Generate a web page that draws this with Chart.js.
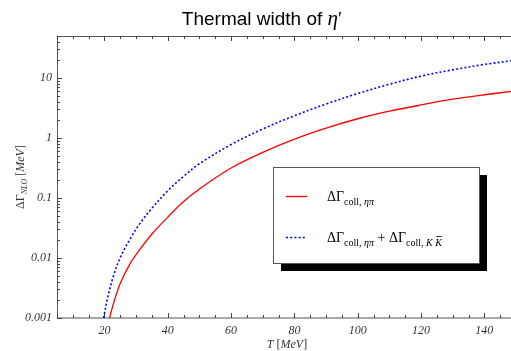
<!DOCTYPE html>
<html>
<head>
<meta charset="utf-8">
<script src="https://cdn.jsdelivr.net/npm/chart.js@4/dist/chart.umd.min.js"></script>
<style>
  html, body { margin: 0; padding: 0; background: #fff; overflow: hidden; }
  #wrap { position: relative; width: 516px; height: 351px; }
</style>
</head>
<body>
<div id="wrap"><canvas id="chart"></canvas></div>
<script>
// values
const redT = [21.6, 23, 25, 28, 31, 35, 40, 45, 50, 60, 70, 80, 90, 100, 110, 120, 130, 140, 150];
const redWidth = [0.001, 0.00186, 0.0038, 0.0079, 0.0135, 0.0251, 0.048, 0.087, 0.141, 0.316, 0.575, 0.955, 1.46, 2.09, 2.79, 3.55, 4.42, 5.25, 6.1];

const blueT = [19.7, 21, 23, 25, 28, 31, 35, 40, 45, 50, 60, 70, 80, 90, 100, 110, 120, 130, 140, 150];
const blueWidth = [0.001, 0.00219, 0.00537, 0.0102, 0.0204, 0.0363, 0.0676, 0.132, 0.229, 0.372, 0.776, 1.413, 2.344, 3.673, 5.495, 7.85, 10.72, 13.65, 16.8, 19.7];

const xTicks = [20, 40, 60, 80, 100, 120, 140];
const yTicks = [0.001, 0.01, 0.1, 1, 10];

const SERIF = '"Liberation Serif", "DejaVu Serif", serif';
const SANS = '"Liberation Sans", Arial, sans-serif';

const pts = (xs, ys) => xs.map((x, i) => ({ x, y: ys[i] }));

// draw a run of text pieces with own fonts / offsets
const rich = (ctx, parts, x, y, align) => {
  let w = 0;
  parts.forEach(p => { ctx.font = p.font; p.w = ctx.measureText(p.t).width; w += p.w; });
  let cx = align === 'center' ? x - w / 2 : x;
  parts.forEach(p => {
    ctx.font = p.font;
    ctx.fillText(p.t, cx, y + (p.dy || 0));
    if (p.over) {
      const ow = ctx.measureText(p.over).width;
      const ox = cx + p.w - ow;
      ctx.beginPath();
      ctx.moveTo(ox + 1, y + (p.dy || 0) - 9.5);
      ctx.lineTo(ox + ow, y + (p.dy || 0) - 9.5);
      ctx.lineWidth = 0.8;
      ctx.strokeStyle = ctx.fillStyle;
      ctx.stroke();
    }
    cx += p.w;
  });
};

const line = (ctx, x1, y1, x2, y2) => {
  ctx.beginPath();
  ctx.moveTo(x1, y1);
  ctx.lineTo(x2, y2);
  ctx.stroke();
};

const frame = {
  id: 'frame',
  beforeDatasetsDraw(chart) {
    const { ctx, chartArea: a, scales: { x, y } } = chart;
    ctx.save();
    ctx.strokeStyle = '#555';
    ctx.lineWidth = 1;
    ctx.strokeRect(a.left + 0.5, a.top + 0.5, a.right - a.left, a.bottom - a.top - 0.5);
    ctx.strokeStyle = '#444';
    for (let t = 5; t <= 150; t += 5) {
      const px = Math.round(x.getPixelForValue(t)) + 0.5;
      const len = t % 20 === 0 ? 5 : 3;
      line(ctx, px, a.bottom, px, a.bottom - len);
      line(ctx, px, a.top, px, a.top + len);
    }
    for (let d = -3; d <= 1; d++) {
      for (let m = 1; m <= 9; m++) {
        const v = m * Math.pow(10, d);
        if (v > 50) break;
        const py = Math.round(y.getPixelForValue(v)) + 0.5;
        const len = m === 1 ? 5 : 3;
        line(ctx, a.left, py, a.left + len, py);
        line(ctx, a.right, py, a.right - len, py);
      }
    }
    ctx.restore();
  },
  afterDraw(chart) {
    const { ctx } = chart;
    ctx.save();
    ctx.fillStyle = '#000';
    ctx.textBaseline = 'alphabetic';

    // title
    rich(ctx, [
      { t: 'Thermal width of ', font: '19px ' + SANS },
      { t: 'η', font: 'italic 21px ' + SERIF },
      { t: '′', font: '19px ' + SERIF }
    ], 262, 25, 'center');

    // axis titles
    ctx.fillStyle = '#333';
    rich(ctx, [
      { t: 'T', font: 'italic 12px ' + SERIF },
      { t: ' [', font: '12px ' + SERIF },
      { t: 'MeV', font: 'italic 12px ' + SERIF },
      { t: ']', font: '12px ' + SERIF }
    ], 287, 348, 'center');

    ctx.save();
    ctx.translate(24, 177);
    ctx.rotate(-Math.PI / 2);
    rich(ctx, [
      { t: 'ΔΓ', font: '12px ' + SERIF },
      { t: 'NLO', font: 'italic 8px ' + SERIF, dy: 3 },
      { t: ' [', font: '12px ' + SERIF },
      { t: 'MeV', font: 'italic 12px ' + SERIF },
      { t: ']', font: '12px ' + SERIF }
    ], 0, 0, 'center');
    ctx.restore();

    // legend box with drop shadow
    const bx = 273, by = 167, bw = 206, bh = 96;
    ctx.fillStyle = '#000';
    ctx.fillRect(bx + 8, by + 8, bw, bh);
    ctx.fillStyle = '#fff';
    ctx.fillRect(bx, by, bw, bh);
    ctx.strokeStyle = '#555';
    ctx.lineWidth = 1;
    ctx.strokeRect(bx + 0.5, by + 0.5, bw, bh);

    const ds = chart.data.datasets;
    const rows = [196, 237];
    rows.forEach((ry, i) => {
      ctx.strokeStyle = ds[i].borderColor;
      ctx.lineWidth = ds[i].borderWidth;
      ctx.setLineDash(ds[i].borderDash || []);
      line(ctx, 286, ry + 0.5, 307, ry + 0.5);
    });
    ctx.setLineDash([]);
    ctx.fillStyle = '#000';
    const big = '14px ' + SERIF, sub = '10px ' + SERIF, subI = 'italic 10px ' + SERIF;
    rich(ctx, [
      { t: 'ΔΓ', font: big },
      { t: 'coll, ', font: sub, dy: 4 },
      { t: 'ηπ', font: subI, dy: 4 }
    ], 327, 201);
    rich(ctx, [
      { t: 'ΔΓ', font: big },
      { t: 'coll, ', font: sub, dy: 4 },
      { t: 'ηπ', font: subI, dy: 4 },
      { t: ' + ΔΓ', font: big },
      { t: 'coll, ', font: sub, dy: 4 },
      { t: 'K K', font: subI, dy: 4, over: 'K' }
    ], 327, 242);
    ctx.restore();
  }
};

new Chart(document.getElementById('chart'), {
  type: 'line',
  data: {
    datasets: [
      {
        label: 'ΔΓ coll, ηπ',
        data: pts(redT, redWidth),
        borderColor: '#ff0000',
        borderWidth: 1.3,
        pointRadius: 0,
        tension: 0.35
      },
      {
        label: 'ΔΓ coll, ηπ + ΔΓ coll, KK̄',
        data: pts(blueT, blueWidth),
        borderColor: '#0000ff',
        borderWidth: 1.6,
        borderDash: [2, 2.2],
        pointRadius: 0,
        tension: 0.35
      }
    ]
  },
  options: {
    responsive: true,
    maintainAspectRatio: false,
    animation: false,
    layout: { padding: { top: 36, left: 0, right: 0, bottom: 0 } },
    plugins: { legend: { display: false }, title: { display: false }, tooltip: { enabled: false } },
    scales: {
      x: {
        type: 'linear',
        min: 5,
        max: 150,
        grid: { display: false, drawTicks: false },
        border: { display: false },
        afterBuildTicks: s => { s.ticks = xTicks.map(v => ({ value: v })); },
        afterFit: s => { s.height = 33; },
        ticks: {
          padding: 6,
          color: '#333',
          font: { family: SERIF, size: 12, style: 'italic' },
          maxRotation: 0,
          autoSkip: false
        }
      },
      y: {
        type: 'logarithmic',
        min: 0.001,
        max: 50,
        grid: { display: false, drawTicks: false },
        border: { display: false },
        afterBuildTicks: s => { s.ticks = yTicks.map(v => ({ value: v })); },
        afterFit: s => { s.width = 57; },
        ticks: {
          padding: 5,
          color: '#333',
          font: { family: SERIF, size: 12, style: 'italic' },
          autoSkip: false,
          callback: v => String(v)
        }
      }
    }
  },
  plugins: [frame]
});
</script>
</body>
</html>
